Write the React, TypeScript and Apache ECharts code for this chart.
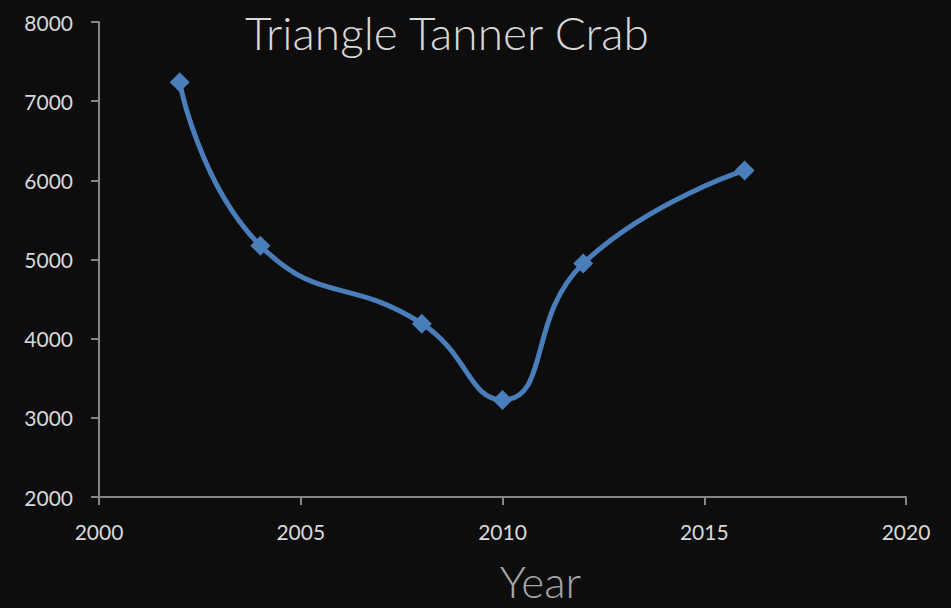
import React, { useEffect, useRef } from "react";
import * as echarts from "echarts";

const title = "Triangle Tanner Crab";
const xName = "Year";
const years = [2002, 2004, 2008, 2010, 2012, 2016];
const values = [7240, 5175, 4190, 3225, 4950, 6125];

export default function App() {
  const ref = useRef<HTMLDivElement>(null);
  useEffect(() => {
    document.body.style.margin = "0";
    document.body.style.background = "#0d0d0d";
    const chart = echarts.init(ref.current!, null, { renderer: "svg" });
    const font = "Lato, 'Open Sans', sans-serif";
    chart.setOption({
      animation: false,
      backgroundColor: "#0d0d0d",
      title: {
        text: title,
        left: 442,
        top: 4,
        textAlign: "center",
        textStyle: { color: "#d9d9d9", fontSize: 46, fontWeight: 300, fontFamily: font },
      },
      grid: { left: 99, top: 22, right: 45, bottom: 103 },
      xAxis: {
        type: "value",
        min: 2000,
        max: 2020,
        interval: 5,
        name: xName,
        nameLocation: "middle",
        nameGap: 62,
        nameTextStyle: { color: "#a6a6a6", fontSize: 44, fontWeight: 300, fontFamily: font, padding: [0, 0, 0, 76] },
        axisLine: { show: true, lineStyle: { color: "#868686", width: 2 } },
        axisTick: { show: true, length: 8, lineStyle: { color: "#868686", width: 2 } },
        axisLabel: { color: "#d9d9d9", fontSize: 21, margin: 24, fontFamily: font, formatter: (v: number) => String(v) },
        splitLine: { show: false },
      },
      yAxis: {
        type: "value",
        min: 2000,
        max: 8000,
        interval: 1000,
        axisLine: { show: true, lineStyle: { color: "#868686", width: 2 } },
        axisTick: { show: true, length: 8, lineStyle: { color: "#868686", width: 2 } },
        axisLabel: { color: "#d9d9d9", fontSize: 21, margin: 26, fontFamily: font, formatter: (v: number) => String(v) },
        splitLine: { show: false },
      },
      series: [
        {
          type: "line",
          data: years.map((y, i) => [y, values[i]]),
          smooth: 0.5,
          symbol: "diamond",
          symbolSize: 20,
          lineStyle: { color: "#4a7ebb", width: 5 },
          itemStyle: { color: "#4a7ebb" },
        },
      ],
    });
    return () => chart.dispose();
  }, []);
  return <div ref={ref} style={{ width: 951, height: 608 }} />;
}
